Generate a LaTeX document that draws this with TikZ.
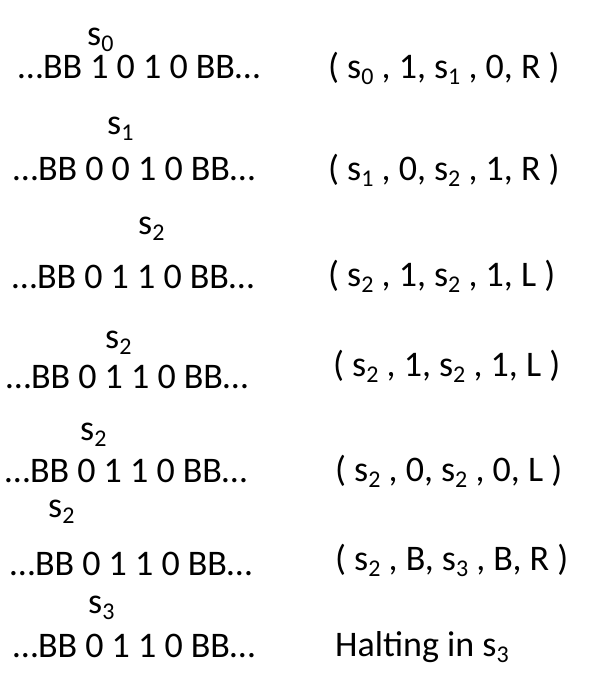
\documentclass[tikz,border=0pt]{standalone}
\usepackage{fontspec}
\setmainfont{Carlito}
\newcommand\lowsub[1]{\raisebox{-6.5pt}{\fontsize{24}{24}\selectfont #1}}
\begin{document}
\begin{tikzpicture}[x=1pt,y=1pt,
  txt/.style={anchor=base west,inner sep=0pt,font=\fontsize{36}{40}\selectfont}]
\useasboundingbox (0,0) rectangle (608,-688);
% row 1
\node[txt] (l1) at (87,-45) {s\lowsub{0}};
\node[txt] (t1) at (18,-78) {…BB 1 0 1 0 BB…};
\node[txt] (r1) at (328,-78) {( s\lowsub{0} , 1, s\lowsub{1} , 0, R )};
% row 2
\node[txt] (l2) at (107,-134) {s\lowsub{1}};
\node[txt] (t2) at (13,-180) {…BB 0 0 1 0 BB…};
\node[txt] (r2) at (328,-180) {( s\lowsub{1} , 0, s\lowsub{2} , 1, R )};
% row 3
\node[txt] (l3) at (138,-234) {s\lowsub{2}};
\node[txt] (t3) at (12,-288) {…BB 0 1 1 0 BB…};
\node[txt] (r3) at (328,-286) {( s\lowsub{2} , 1, s\lowsub{2} , 1, L )};
% row 4
\node[txt] (l4) at (105,-348) {s\lowsub{2}};
\node[txt] (t4) at (6,-388) {…BB 0 1 1 0 BB…};
\node[txt] (r4) at (333,-376) {( s\lowsub{2} , 1, s\lowsub{2} , 1, L )};
% row 5
\node[txt] (l5) at (80,-440) {s\lowsub{2}};
\node[txt] (t5) at (5,-482) {…BB 0 1 1 0 BB…};
\node[txt] (r5) at (335,-481) {( s\lowsub{2} , 0, s\lowsub{2} , 0, L )};
% row 6
\node[txt] (l6) at (48,-517) {s\lowsub{2}};
\node[txt] (t6) at (10,-575) {…BB 0 1 1 0 BB…};
\node[txt] (r6) at (335,-570) {( s\lowsub{2} , B, s\lowsub{3} , B, R )};
% row 7
\node[txt] (l7) at (88,-613) {s\lowsub{3}};
\node[txt] (t7) at (13,-657) {…BB 0 1 1 0 BB…};
\node[txt] (r7) at (335,-656) {Halting in s\lowsub{3}};
\end{tikzpicture}
\end{document}
